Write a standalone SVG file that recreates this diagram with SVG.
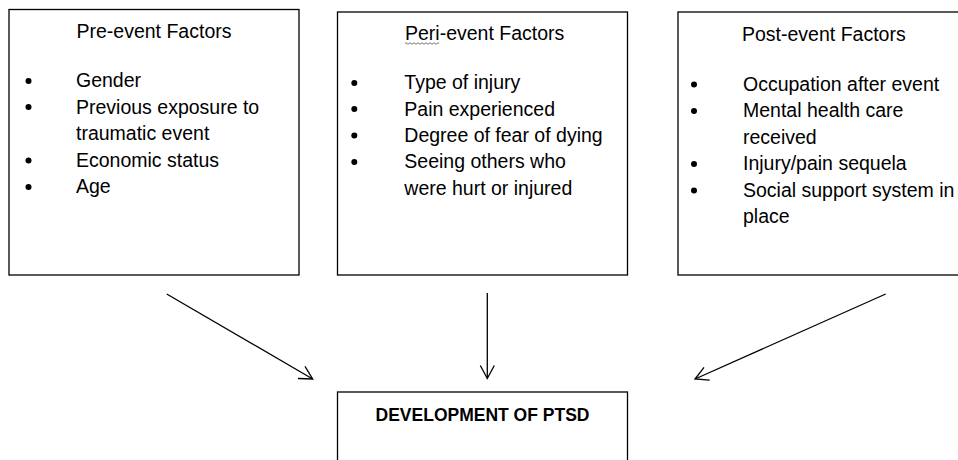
<svg xmlns="http://www.w3.org/2000/svg" width="958" height="460" viewBox="0 0 958 460">
<defs>
<style>
.box{fill:#fff;stroke:#000;stroke-width:1.3}
.t{font-family:"Liberation Sans",Arial,sans-serif;font-size:19.5px;fill:#000}
.b{font-family:"Liberation Sans",Arial,sans-serif;font-size:17.5px;font-weight:bold;fill:#000}
.dot{fill:#000}
.conn{fill:none;stroke:#000;stroke-width:1.3}
</style>
<marker id="arr" viewBox="0 0 16 16" refX="15" refY="8" markerWidth="16" markerHeight="16" markerUnits="userSpaceOnUse" orient="auto">
<path d="M2,1 L15,8 L2,15" fill="none" stroke="#000" stroke-width="1.3"/>
</marker>
</defs>
<rect width="958" height="460" fill="#fff"/>
<g id="pre">
<rect class="box" x="9" y="9.5" width="290" height="265.5"/>
<text class="t" x="154" y="38" text-anchor="middle">Pre-event Factors</text>
<circle class="dot" cx="28.5" cy="81" r="3"/>
<text class="t" x="76" y="87.3">Gender</text>
<circle class="dot" cx="28.5" cy="107" r="3"/>
<text class="t" x="76" y="113.5">Previous exposure to</text>
<text class="t" x="76" y="140">traumatic event</text>
<circle class="dot" cx="28.5" cy="160.5" r="3"/>
<text class="t" x="76" y="166.7">Economic status</text>
<circle class="dot" cx="28.5" cy="187" r="3"/>
<text class="t" x="76" y="193">Age</text>
</g>
<g id="peri">
<rect class="box" x="337.5" y="12" width="290" height="263"/>
<text class="t" x="405" y="39.5">Peri-event Factors</text>
<path d="M405,43.5 q1,-1.5 2,0 t2,0 t2,0 t2,0 t2,0 t2,0 t2,0 t2,0 t2,0 t2,0 t2,0 t2,0 t2,0 t2,0 t2,0 t2,0 t2,0" fill="none" stroke="#555" stroke-width="0.8"/>
<circle class="dot" cx="354.3" cy="83" r="3"/>
<text class="t" x="404.3" y="89.3">Type of injury</text>
<circle class="dot" cx="354.3" cy="109" r="3"/>
<text class="t" x="404.3" y="115.5">Pain experienced</text>
<circle class="dot" cx="354.3" cy="135.5" r="3"/>
<text class="t" x="404.3" y="141.8">Degree of fear of dying</text>
<circle class="dot" cx="354.3" cy="162" r="3"/>
<text class="t" x="404.3" y="168.3">Seeing others who</text>
<text class="t" x="404.3" y="195">were hurt or injured</text>
</g>
<g id="post">
<rect class="box" x="678" y="12" width="300" height="263"/>
<text class="t" x="742" y="40.5">Post-event Factors</text>
<circle class="dot" cx="694" cy="84.5" r="3"/>
<text class="t" x="743" y="90.7">Occupation after event</text>
<circle class="dot" cx="694" cy="111" r="3"/>
<text class="t" x="743" y="117">Mental health care</text>
<text class="t" x="743" y="143.5">received</text>
<circle class="dot" cx="694" cy="164" r="3"/>
<text class="t" x="743" y="170">Injury/pain sequela</text>
<circle class="dot" cx="694" cy="190.5" r="3"/>
<text class="t" x="743" y="196.7">Social support system in</text>
<text class="t" x="743" y="223">place</text>
</g>
<g id="ptsd">
<rect class="box" x="337.5" y="392" width="290" height="100"/>
<text class="b" x="482.5" y="421" text-anchor="middle">DEVELOPMENT OF PTSD</text>
</g>
<g id="connectors">
<line class="conn" x1="166.7" y1="294" x2="312.7" y2="379" marker-end="url(#arr)"/>
<line class="conn" x1="487.3" y1="293" x2="487.3" y2="378.5" marker-end="url(#arr)"/>
<line class="conn" x1="885.7" y1="294" x2="695" y2="379" marker-end="url(#arr)"/>
</g>
</svg>
